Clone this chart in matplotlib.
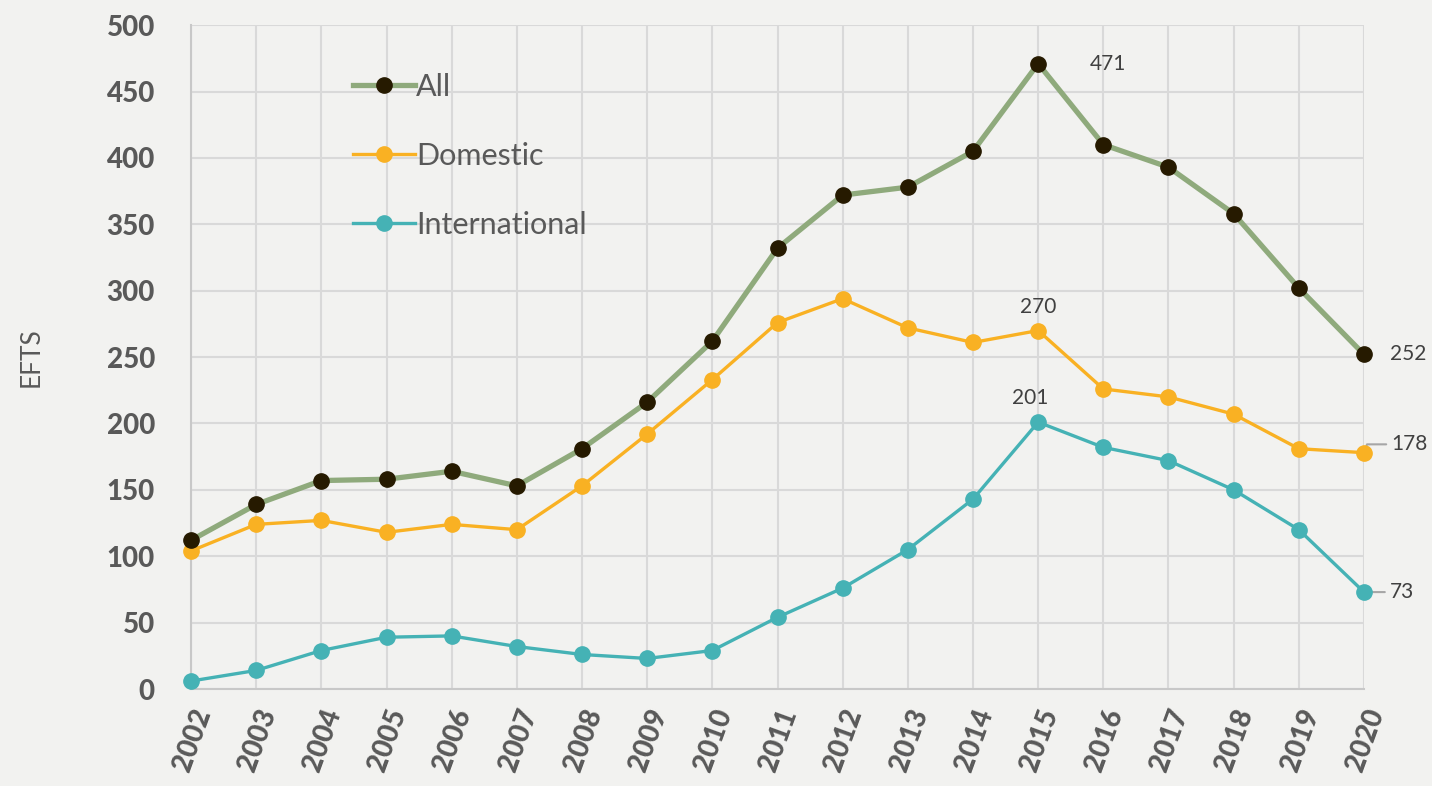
import numpy as np
import matplotlib
matplotlib.use("Agg")
import matplotlib.pyplot as plt

# EFTS per year
years = list(range(2002, 2021))
all_efts = [112, 139, 157, 158, 164, 153, 181, 216, 262, 332, 372, 378, 405, 471, 410, 393, 358, 302, 252]
domestic = [104, 124, 127, 118, 124, 120, 153, 192, 233, 276, 294, 272, 261, 270, 226, 220, 207, 181, 178]
international = [6, 14, 29, 39, 40, 32, 26, 23, 29, 54, 76, 105, 143, 201, 182, 172, 150, 120, 73]
y_ticks = [0, 50, 100, 150, 200, 250, 300, 350, 400, 450, 500]

bg = '#f2f2f0'
grey_txt = '#595959'
plt.rcParams['font.family'] = ['Lato', 'DejaVu Sans']

fig = plt.figure(figsize=(14.32, 7.86), dpi=100, facecolor=bg)
ax = fig.add_axes([0.1334, 0.1234, 0.8191, 0.8446], facecolor=bg)

ax.plot(years, all_efts, color='#8faa7c', lw=3.8, marker='o', ms=11,
        mfc='#261a00', mec='#261a00', label='All', clip_on=False, zorder=5)
ax.plot(years, domestic, color='#f9b123', lw=2.4, marker='o', ms=11,
        mfc='#f9b123', mec='#f9b123', label='Domestic', clip_on=False, zorder=4)
ax.plot(years, international, color='#45b2b5', lw=2.4, marker='o', ms=11,
        mfc='#45b2b5', mec='#45b2b5', label='International', clip_on=False, zorder=4)

ax.set_xlim(2002, 2020)
ax.set_ylim(0, 500)
ax.set_yticks(y_ticks)
ax.set_xticks(years)
ax.set_xticklabels([str(y) for y in years], rotation=70, ha='right',
                   rotation_mode='anchor', fontsize=20, fontweight='black', color=grey_txt)
ax.set_yticklabels([str(v) for v in y_ticks], fontsize=20, fontweight='black', color=grey_txt)
ax.tick_params(length=0, pad=26)
ax.tick_params(axis='x', pad=12)

ax.grid(True, color='#d9d9d9', lw=1.5)
ax.set_axisbelow(True)
for s in ['top', 'right']:
    ax.spines[s].set_visible(False)
for s in ['left', 'bottom']:
    ax.spines[s].set_color('#c8c8c8')
    ax.spines[s].set_linewidth(1.5)

ax.set_ylabel('EFTS', fontsize=19, color=grey_txt, labelpad=45)

leg = ax.legend(loc='upper left', bbox_to_anchor=(0.115, 0.97), frameon=False,
                fontsize=22, handlelength=2.0, handletextpad=0.05, labelspacing=1.35,
                numpoints=1, labelcolor=grey_txt)

# data labels
i15 = years.index(2015)
ax.annotate(str(all_efts[i15]), (2015, all_efts[i15]), xytext=(37, 0),
            textcoords='offset points', fontsize=15, color='#404040', va='center')
ax.annotate(str(domestic[i15]), (2015, domestic[i15]), xytext=(0, 10),
            textcoords='offset points', fontsize=15, color='#404040', ha='center', va='bottom')
ax.annotate(str(international[i15]), (2015, international[i15]), xytext=(-6, 10),
            textcoords='offset points', fontsize=15, color='#404040', ha='center', va='bottom')
ax.annotate(str(all_efts[-1]), (2020, all_efts[-1]), xytext=(19, 0),
            textcoords='offset points', fontsize=15, color='#404040', va='center')
ax.annotate(str(domestic[-1]), (2020, domestic[-1]), xytext=(20, 6),
            textcoords='offset points', fontsize=15, color='#404040', va='center',
            arrowprops=dict(arrowstyle='-', color='#a6a6a6', lw=1.5,
                            connectionstyle='angle,angleA=0,angleB=70', shrinkA=2, shrinkB=0))
ax.annotate(str(international[-1]), (2020, international[-1]), xytext=(19, 0),
            textcoords='offset points', fontsize=15, color='#404040', va='center',
            arrowprops=dict(arrowstyle='-', color='#a6a6a6', lw=1.5, shrinkA=2, shrinkB=0))

fig.savefig('out.png', dpi=100, facecolor=bg)
